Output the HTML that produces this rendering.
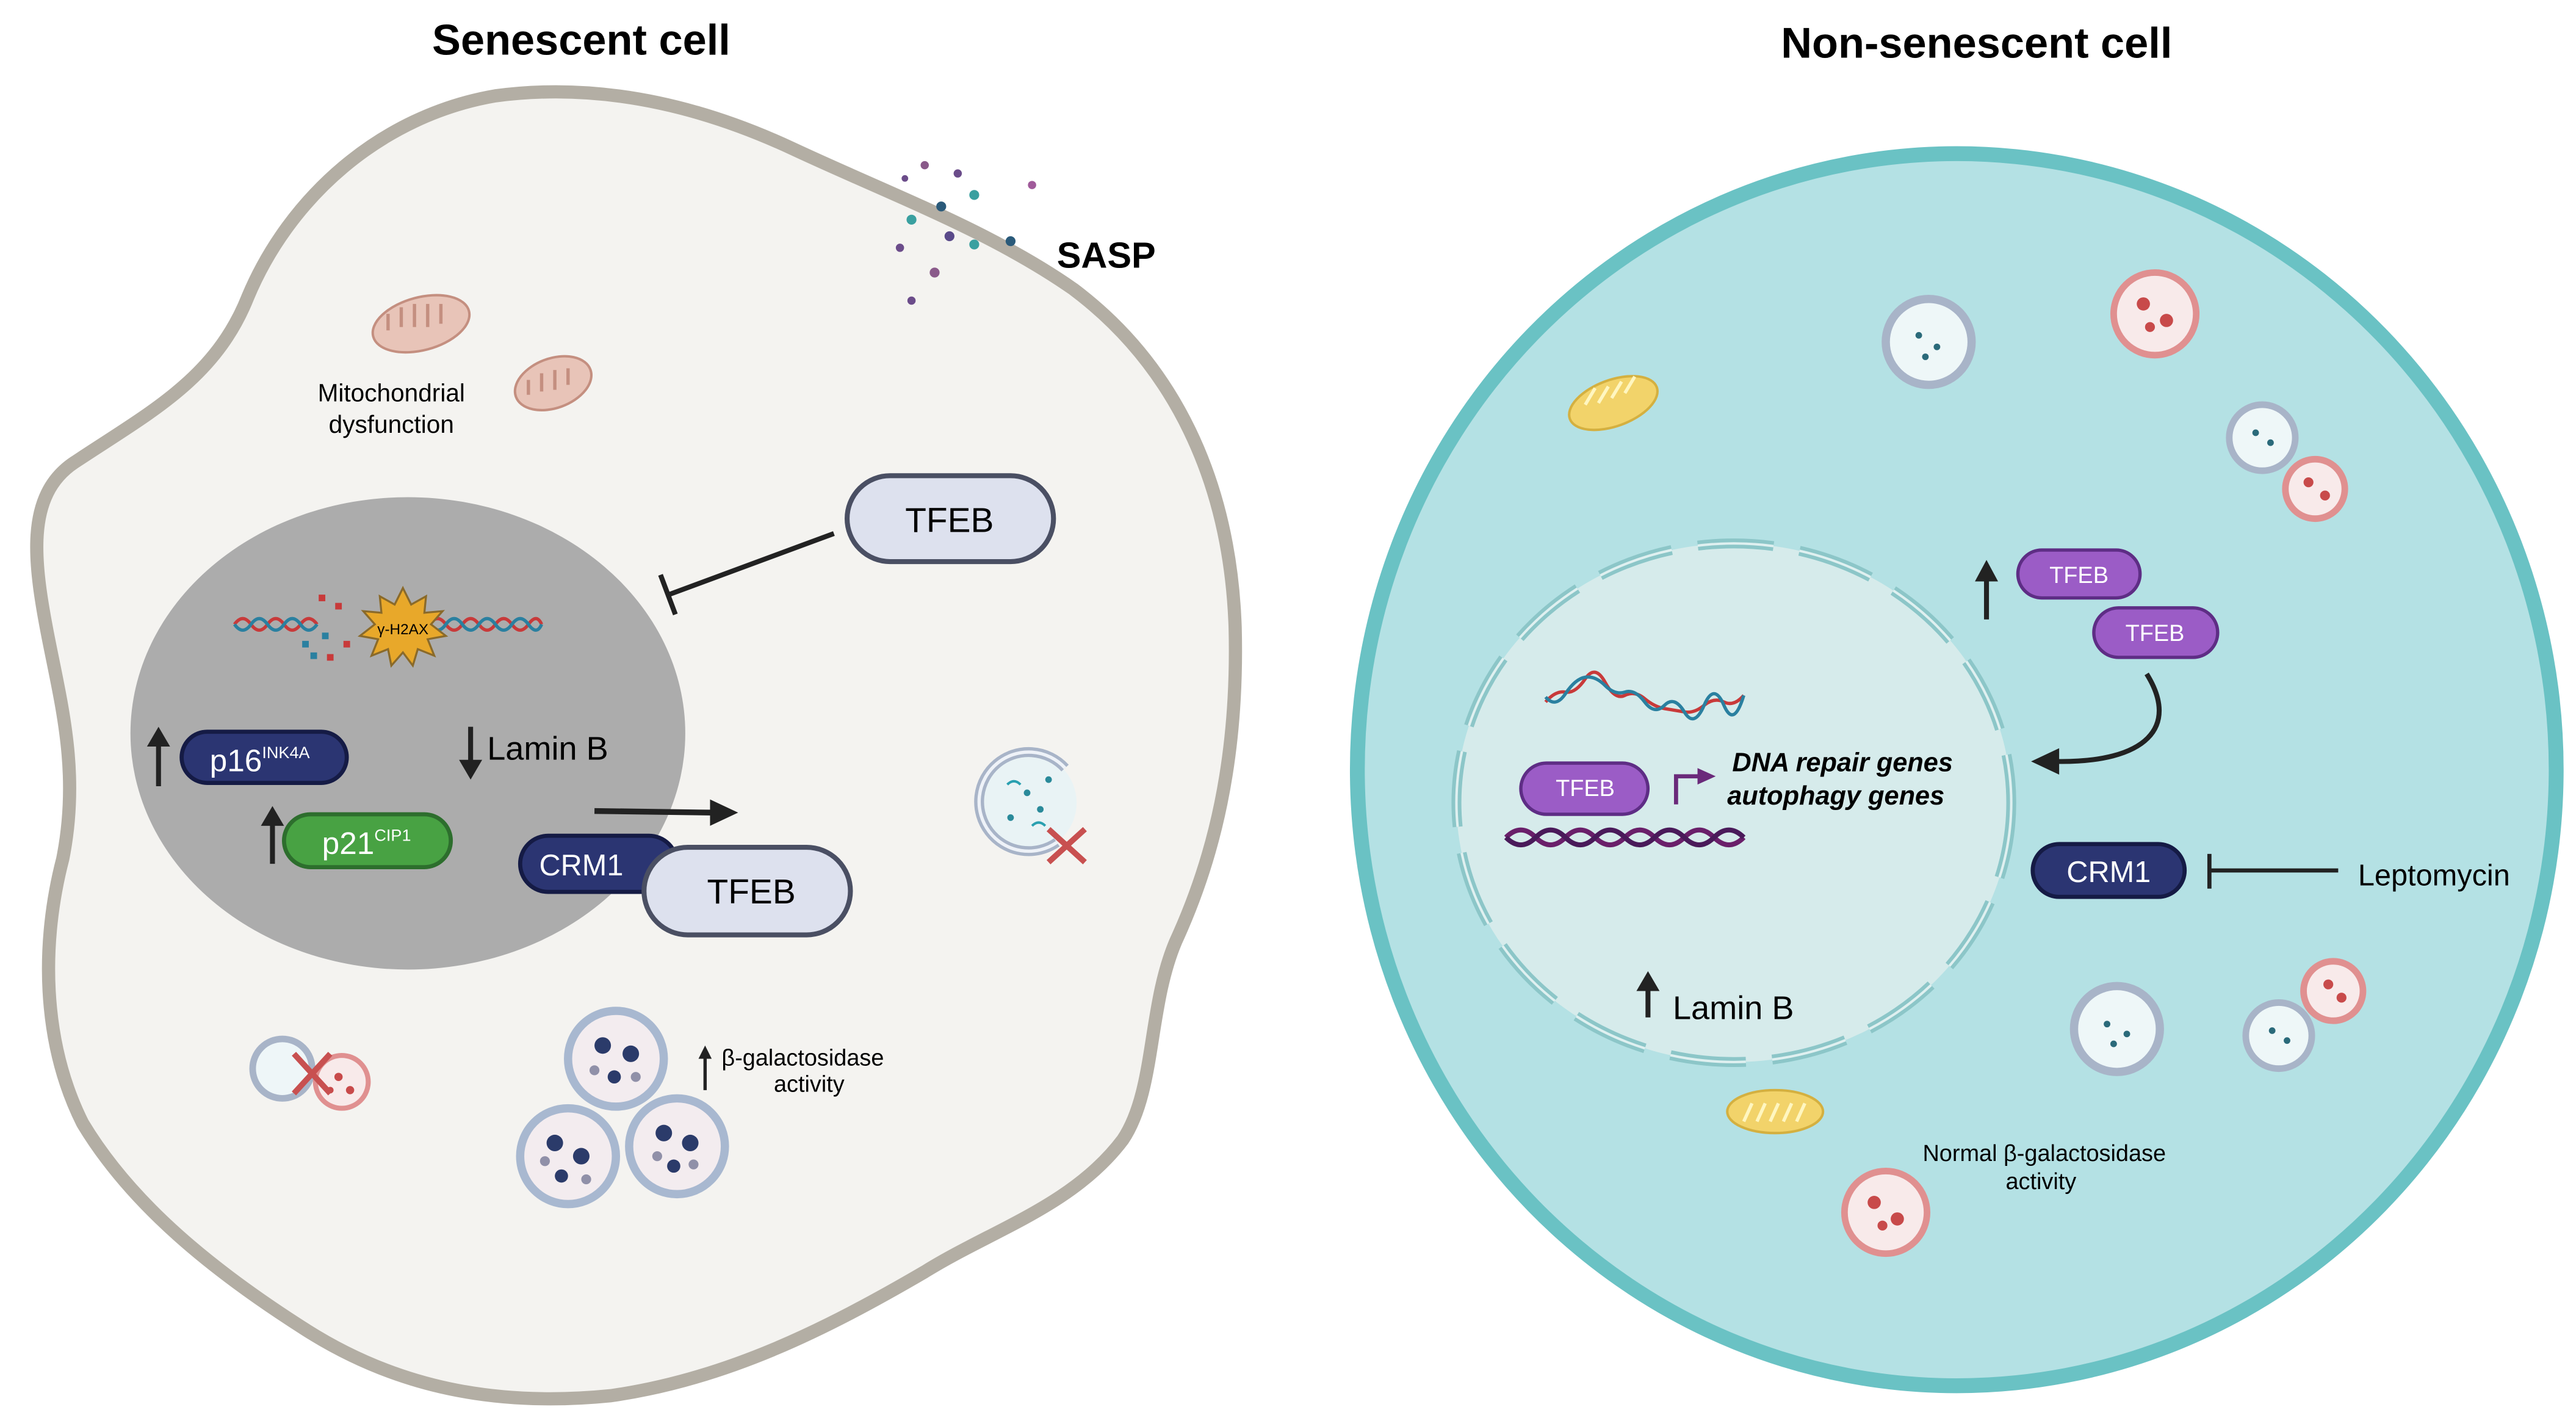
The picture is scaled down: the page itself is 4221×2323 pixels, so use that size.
<!DOCTYPE html>
<html><head><meta charset="utf-8"><style>
html,body{margin:0;padding:0;background:#fff;}
svg{display:block}
text{font-family:"Liberation Sans",sans-serif;}
</style></head><body>
<svg width="4221" height="2323" viewBox="0 0 1560 858.5" xmlns="http://www.w3.org/2000/svg">
<rect width="1560" height="858.5" fill="#fff"/>
<text x="352" y="33" text-anchor="middle" font-size="26" font-weight="bold">Senescent cell</text>
<text x="1197" y="35" text-anchor="middle" font-size="26" font-weight="bold">Non-senescent cell</text>

<!-- Left cell -->
<path d="M150,180 C175,120 230,70 300,58 C360,50 420,62 480,90 C540,118 600,140 650,175 C710,220 745,290 748,380 C750,460 735,520 712,570 C695,610 700,660 680,690 C650,730 600,745 560,770 C500,805 440,835 370,845 C300,852 240,840 185,805 C130,770 80,730 50,680 C25,630 25,570 38,520 C48,470 38,430 30,390 C20,340 15,300 45,280 C90,250 130,230 150,180 Z" fill="#f4f3f0" stroke="#b3aea4" stroke-width="8"/>
<ellipse cx="247" cy="444" rx="168" ry="143" fill="#acacac"/>

<!-- mitochondria damaged -->
<g fill="#e8c4b8" stroke="#c48f80" stroke-width="1.5">
<ellipse cx="255" cy="196" rx="30" ry="16" transform="rotate(-15 255 196)"/>
<ellipse cx="335" cy="232" rx="24" ry="15" transform="rotate(-20 335 232)"/>
</g>
<g stroke="#c48f80" stroke-width="2"><path d="M235,190 v10 M243,186 v12 M251,184 v14 M259,184 v14 M267,184 v12 M320,230 v9 M328,226 v11 M336,224 v12 M344,223 v10"/></g>
<text x="237" y="243" text-anchor="middle" font-size="15">Mitochondrial</text>
<text x="237" y="262" text-anchor="middle" font-size="15">dysfunction</text>

<!-- SASP dots -->
<g>
<circle cx="560" cy="100" r="2.5" fill="#8a5a8a"/><circle cx="580" cy="105" r="2.5" fill="#6b4c8a"/><circle cx="625" cy="112" r="2.5" fill="#a05a9a"/>
<circle cx="548" cy="108" r="2" fill="#6b4c8a"/><circle cx="590" cy="118" r="3" fill="#3aa0a0"/><circle cx="570" cy="125" r="3" fill="#2a5a7a"/>
<circle cx="552" cy="133" r="3" fill="#3aa0a0"/><circle cx="575" cy="143" r="3" fill="#5a4a8a"/><circle cx="590" cy="148" r="3" fill="#3aa0a0"/>
<circle cx="612" cy="146" r="3" fill="#2a5a7a"/><circle cx="545" cy="150" r="2.5" fill="#6b4c8a"/><circle cx="566" cy="165" r="3" fill="#8a5a8a"/><circle cx="552" cy="182" r="2.5" fill="#6b4c8a"/>
</g>
<text x="640" y="162" font-size="22" font-weight="bold">SASP</text>

<!-- TFEB top + inhibitor -->
<rect x="513" y="288" width="125" height="52" rx="26" fill="#dde1ee" stroke="#4a4f63" stroke-width="3"/>
<text x="575" y="322" text-anchor="middle" font-size="21">TFEB</text>
<line x1="505" y1="323" x2="405" y2="360" stroke="#222" stroke-width="3"/>
<line x1="400" y1="348" x2="409" y2="372" stroke="#222" stroke-width="3"/>

<!-- DNA damage -->
<g fill="none" stroke-width="2">
<path d="M142,378 q5,-7 10,0 t10,0 t10,0 t10,0 t10,0" stroke="#c83a3a"/>
<path d="M142,378 q5,7 10,0 t10,0 t10,0 t10,0 t10,0" stroke="#2a80a0"/>
<path d="M260,378 q5,-7 10,0 t10,0 t10,0 t10,0 t10,0 t10,0 t8,0" stroke="#c83a3a"/>
<path d="M260,378 q5,7 10,0 t10,0 t10,0 t10,0 t10,0 t10,0 t8,0" stroke="#2a80a0"/>
</g>
<g fill="#c83a3a"><rect x="193" y="360" width="4" height="4"/><rect x="203" y="365" width="4" height="4"/><rect x="198" y="396" width="4" height="4"/><rect x="208" y="388" width="4" height="4"/></g>
<g fill="#2a80a0"><rect x="183" y="388" width="4" height="4"/><rect x="188" y="395" width="4" height="4"/><rect x="195" y="383" width="4" height="4"/></g>
<polygon points="244,356 249,366 258,361 257,371 268,370 261,378 270,385 259,387 263,397 253,393 250,403 244,395 237,403 235,393 225,397 229,387 218,385 227,378 220,370 231,371 230,361 239,366" fill="#e8a82a" stroke="#8a6a2a" stroke-width="1.2"/>
<text x="244" y="384" text-anchor="middle" font-size="9">γ-H2AX</text>

<!-- p16, p21, lamin -->
<line x1="96" y1="476" x2="96" y2="450" stroke="#222" stroke-width="3"/><polygon points="89,452 103,452 96,440" fill="#222"/>
<rect x="110" y="443" width="100" height="31" rx="15.5" fill="#2b3572" stroke="#151b45" stroke-width="2.5"/>
<text x="127" y="467" font-size="19" fill="#fff">p16<tspan font-size="10" dy="-8">INK4A</tspan></text>
<line x1="285" y1="440" x2="285" y2="462" stroke="#222" stroke-width="3"/><polygon points="278,460 292,460 285,472" fill="#222"/>
<text x="295" y="460" font-size="20">Lamin B</text>
<line x1="165" y1="523" x2="165" y2="498" stroke="#222" stroke-width="3"/><polygon points="158,500 172,500 165,488" fill="#222"/>
<rect x="172" y="493" width="101" height="32" rx="16" fill="#48a243" stroke="#2d6e2d" stroke-width="2.5"/>
<text x="195" y="517" font-size="19" fill="#fff">p21<tspan font-size="10" dy="-8">CIP1</tspan></text>

<!-- export arrow -->
<line x1="360" y1="491" x2="432" y2="492" stroke="#222" stroke-width="3.5"/><polygon points="430,484 447,492 430,500" fill="#222"/>
<rect x="315" y="506" width="95" height="34" rx="17" fill="#2b3572" stroke="#151b45" stroke-width="2.5"/>
<text x="352" y="530" text-anchor="middle" font-size="18" fill="#fff">CRM1</text>
<rect x="390" y="513" width="125" height="53" rx="26.5" fill="#dde1ee" stroke="#4a4f63" stroke-width="3"/>
<text x="455" y="547" text-anchor="middle" font-size="21">TFEB</text>

<!-- autophagosome with X -->
<circle cx="622" cy="486" r="30" fill="#e9f3f5"/>
<path d="M645,465 A30,30 0 1 0 640,510" fill="none" stroke="#a8b4c8" stroke-width="6"/>
<path d="M645,465 A30,30 0 1 0 640,510" fill="none" stroke="#eef2f8" stroke-width="2"/>
<g fill="#2a8a9a"><circle cx="622" cy="480" r="2"/><circle cx="630" cy="490" r="2"/><circle cx="612" cy="495" r="2"/><circle cx="635" cy="472" r="2"/></g>
<path d="M610,475 q4,-4 8,0 M625,500 q4,-4 8,0" stroke="#2aa0b0" fill="none" stroke-width="1.5"/>
<path d="M635,502 L657,522 M657,502 L635,522" stroke="#c85050" stroke-width="3.5"/>

<!-- fusion with X -->
<circle cx="171" cy="647" r="18" fill="#eef6f8" stroke="#a8b4c8" stroke-width="4"/>
<circle cx="207" cy="655" r="16" fill="#f8eaea" stroke="#e09090" stroke-width="3"/>
<g fill="#c84a4a"><circle cx="205" cy="652" r="2.5"/><circle cx="212" cy="660" r="2.5"/><circle cx="200" cy="660" r="2"/></g>
<path d="M178,638 L200,662 M200,638 L178,662" stroke="#c85050" stroke-width="3.5"/>

<!-- beta-gal vesicles -->
<g stroke="#a8b8d0" stroke-width="5" fill="#f3ecef">
<circle cx="373" cy="641" r="29"/><circle cx="344" cy="700" r="29"/><circle cx="410" cy="694" r="29"/>
</g>
<g fill="#2b3b6a">
<circle cx="365" cy="633" r="5"/><circle cx="382" cy="638" r="5"/><circle cx="372" cy="652" r="4"/>
<circle cx="336" cy="692" r="5"/><circle cx="352" cy="700" r="5"/><circle cx="340" cy="712" r="4"/>
<circle cx="402" cy="686" r="5"/><circle cx="418" cy="692" r="5"/><circle cx="408" cy="706" r="4"/>
</g>
<g fill="#9090a8"><circle cx="360" cy="648" r="3"/><circle cx="385" cy="652" r="3"/><circle cx="330" cy="703" r="3"/><circle cx="355" cy="714" r="3"/><circle cx="420" cy="705" r="3"/><circle cx="398" cy="700" r="3"/></g>
<line x1="427" y1="660" x2="427" y2="640" stroke="#222" stroke-width="2"/><polygon points="423,641 431,641 427,633" fill="#222"/>
<text x="437" y="645" font-size="14">β-galactosidase</text>
<text x="490" y="661" text-anchor="middle" font-size="14">activity</text>

<!-- Right cell -->
<ellipse cx="1185" cy="466" rx="363" ry="373" fill="#b4e1e4" stroke="#6ac2c4" stroke-width="9"/>
<ellipse cx="1050" cy="486" rx="168" ry="157" fill="#d6ebeb"/>
<ellipse cx="1050" cy="486" rx="168" ry="157" fill="none" stroke="#8cc6c8" stroke-width="6" stroke-dasharray="46 16"/>
<ellipse cx="1050" cy="486" rx="168" ry="157" fill="none" stroke="#dff0f0" stroke-width="1.5" stroke-dasharray="46 16"/>

<!-- red/blue DNA -->
<g fill="none" stroke-width="2">
<path d="M936,425 q6,-7 12,-6 t12,-8 t12,2 t12,8 t12,2 t12,6 t12,2 t12,-4 t12,-2 t12,-4" stroke="#c83a3a"/>
<path d="M936,422 q6,7 12,-2 t12,-10 t12,5 t12,4 t12,6 t12,2 t12,4 t12,-4 t12,0 t12,-6" stroke="#2a80a0"/>
</g>
<rect x="921" y="462" width="77" height="31" rx="15.5" fill="#9b5cc6" stroke="#5e2d85" stroke-width="2"/>
<text x="960" y="482" text-anchor="middle" font-size="14" fill="#fff">TFEB</text>
<path d="M1015,487 V470 H1030" fill="none" stroke="#6a2a7a" stroke-width="2.5"/><polygon points="1028,465 1039,470 1028,475" fill="#6a2a7a"/>
<text x="1049" y="467" font-size="16" font-weight="bold" font-style="italic">DNA repair genes</text>
<text x="1046" y="487" font-size="16" font-weight="bold" font-style="italic">autophagy genes</text>
<g fill="none" stroke-width="3">
<path d="M912,507 q9,-9 18,0 t18,0 t18,0 t18,0 t18,0 t18,0 t18,0 t18,0" stroke="#6a1f6a"/>
<path d="M912,507 q9,9 18,0 t18,0 t18,0 t18,0 t18,0 t18,0 t18,0 t18,0" stroke="#4a1a5a"/>
</g>
<line x1="998" y1="616" x2="998" y2="598" stroke="#222" stroke-width="3"/><polygon points="991,600 1005,600 998,588" fill="#222"/>
<text x="1013" y="617" font-size="20">Lamin B</text>

<!-- TFEBs cytoplasm -->
<line x1="1203" y1="375" x2="1203" y2="350" stroke="#222" stroke-width="3"/><polygon points="1196,352 1210,352 1203,339" fill="#222"/>
<rect x="1222" y="333" width="74" height="29" rx="14.5" fill="#9b5cc6" stroke="#5e2d85" stroke-width="2"/>
<text x="1259" y="353" text-anchor="middle" font-size="14" fill="#fff">TFEB</text>
<rect x="1268" y="368" width="75" height="30" rx="15" fill="#9b5cc6" stroke="#5e2d85" stroke-width="2"/>
<text x="1305" y="388" text-anchor="middle" font-size="14" fill="#fff">TFEB</text>
<path d="M1300,408 C1320,440 1300,462 1245,461" fill="none" stroke="#222" stroke-width="3"/>
<polygon points="1247,453 1230,461 1247,469" fill="#222"/>

<!-- CRM1 leptomycin -->
<rect x="1231" y="511" width="92" height="32" rx="16" fill="#2b3572" stroke="#151b45" stroke-width="2.5"/>
<text x="1277" y="534" text-anchor="middle" font-size="18" fill="#fff">CRM1</text>
<line x1="1338" y1="527" x2="1416" y2="527" stroke="#222" stroke-width="2.5"/>
<line x1="1338" y1="517" x2="1338" y2="538" stroke="#222" stroke-width="2.5"/>
<text x="1428" y="536" font-size="18">Leptomycin</text>

<!-- yellow mitochondria -->
<g fill="#f2d36a" stroke="#d4b040" stroke-width="1.5">
<ellipse cx="977" cy="244" rx="28" ry="14" transform="rotate(-20 977 244)"/>
<ellipse cx="1075" cy="673" rx="29" ry="13"/>
</g>
<g stroke="#fff6c0" stroke-width="2"><path d="M960,245 l6,-10 M968,244 l6,-10 M976,241 l6,-10 M984,238 l6,-10 M1056,679 l5,-11 M1064,679 l5,-11 M1072,679 l5,-11 M1080,679 l5,-11 M1088,679 l5,-11"/></g>

<!-- right vesicles -->
<g>
<circle cx="1168" cy="207" r="26" fill="#eef7f8" stroke="#a8b4c8" stroke-width="5"/>
<circle cx="1305" cy="190" r="25" fill="#f8eaea" stroke="#e09090" stroke-width="4"/>
<circle cx="1370" cy="265" r="20" fill="#eef7f8" stroke="#a8b4c8" stroke-width="4"/>
<circle cx="1402" cy="296" r="18" fill="#f8eaea" stroke="#e09090" stroke-width="4"/>
<circle cx="1282" cy="623" r="26" fill="#eef7f8" stroke="#a8b4c8" stroke-width="5"/>
<circle cx="1380" cy="627" r="20" fill="#eef7f8" stroke="#a8b4c8" stroke-width="4"/>
<circle cx="1413" cy="600" r="18" fill="#f8eaea" stroke="#e09090" stroke-width="4"/>
<circle cx="1142" cy="734" r="25" fill="#f8eaea" stroke="#e09090" stroke-width="4"/>
</g>
<g fill="#c84a4a">
<circle cx="1298" cy="184" r="4"/><circle cx="1312" cy="194" r="4"/><circle cx="1302" cy="198" r="3"/>
<circle cx="1398" cy="292" r="3"/><circle cx="1408" cy="300" r="3"/>
<circle cx="1410" cy="596" r="3"/><circle cx="1418" cy="604" r="3"/>
<circle cx="1135" cy="728" r="4"/><circle cx="1149" cy="738" r="4"/><circle cx="1140" cy="742" r="3"/>
</g>
<g fill="#2a6a7a">
<circle cx="1162" cy="203" r="2"/><circle cx="1173" cy="210" r="2"/><circle cx="1166" cy="216" r="2"/>
<circle cx="1366" cy="262" r="2"/><circle cx="1375" cy="268" r="2"/>
<circle cx="1276" cy="620" r="2"/><circle cx="1288" cy="626" r="2"/><circle cx="1280" cy="632" r="2"/>
<circle cx="1376" cy="624" r="2"/><circle cx="1385" cy="630" r="2"/>
</g>
<text x="1238" y="703" text-anchor="middle" font-size="14">Normal β-galactosidase</text>
<text x="1236" y="720" text-anchor="middle" font-size="14">activity</text>
</svg>
</body></html>
